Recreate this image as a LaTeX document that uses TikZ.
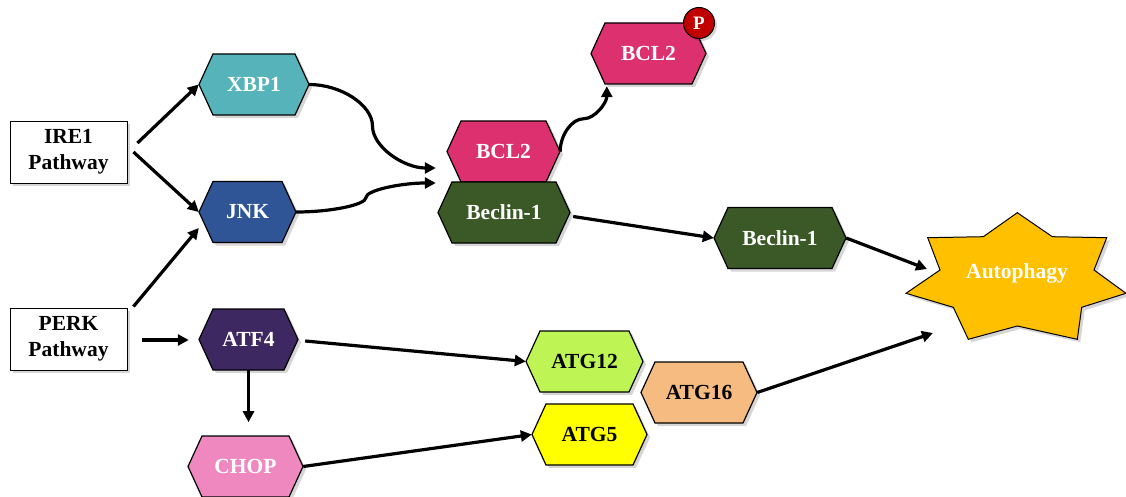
\documentclass[tikz,border=0pt]{standalone}
\usepackage{fontspec}
\setmainfont{Liberation Serif}
\usetikzlibrary{arrows.meta,calc}

\definecolor{cXBP}{RGB}{86,179,186}
\definecolor{cJNK}{RGB}{47,85,151}
\definecolor{cBCL}{RGB}{221,48,110}
\definecolor{cBEC}{RGB}{58,89,38}
\definecolor{cATF}{RGB}{62,40,98}
\definecolor{cCHOP}{RGB}{240,136,192}
\definecolor{cATGt}{RGB}{190,245,85}
\definecolor{cATGs}{RGB}{245,187,128}
\definecolor{cATGf}{RGB}{255,255,0}
\definecolor{cAUTO}{RGB}{255,192,0}
\definecolor{cP}{RGB}{192,0,0}

\tikzset{
  every node/.style={font=\bfseries\fontsize{21.5}{25.7}\selectfont},
  hexline/.style={draw=black, line width=1.2pt, line join=miter},
  hexnode/.style={inner sep=0pt, minimum height=61pt, text=white},
  conn/.style={line width=3.2pt, -{Triangle[length=11pt,width=11pt]}},
  shadowfill/.style={fill=black, opacity=0.16},
  pathbox/.style={draw=black, line width=0.9pt, fill=white, minimum width=117pt,
    minimum height=62pt, align=center, inner sep=0pt, text=black},
}

% name, x, y, half width, fill, text colour, text
\newcommand\hexn[7]{%
  \begin{scope}[shift={(#2,#3)}]
    \fill[shadowfill] (-#4+3,3) -- (-#4+17,-27.5) -- (#4-11,-27.5) -- (#4+3,3)
      -- (#4-11,33.5) -- (-#4+17,33.5) -- cycle;
    \draw[hexline, fill=#5] (-#4,0) -- (-#4+14,-30.5) -- (#4-14,-30.5) -- (#4,0)
      -- (#4-14,30.5) -- (-#4+14,30.5) -- cycle;
  \end{scope}
  \node[hexnode, text=#6, minimum width={2*#4}] (#1) at (#2,#3) {#7};
}

\begin{document}
\begin{tikzpicture}[x=1pt, y=-1pt]
\useasboundingbox (0,0) rectangle (1126,497);

% pathway boxes
\fill[shadowfill] (13,124) rectangle (130,186);
\node[pathbox] (ire) at (68.5,152) {IRE1\\Pathway};
\fill[shadowfill] (13,311) rectangle (130,373);
\node[pathbox] (perk) at (68.5,339) {PERK\\Pathway};

% hexagons
\hexn{xbp}{254}{84.5}{55}{cXBP}{white}{XBP1}
\hexn{jnk}{247.5}{212}{48.5}{cJNK}{white}{JNK}
\hexn{bclm}{503.5}{151.5}{56.5}{cBCL}{white}{BCL2}
\hexn{becl}{504}{212.5}{66}{cBEC}{white}{Beclin-1}
\hexn{bclt}{648.5}{53.5}{57.5}{cBCL}{white}{BCL2}
\hexn{becr}{780}{238}{66}{cBEC}{white}{Beclin-1}
\hexn{atf}{248.5}{339.5}{49.5}{cATF}{white}{ATF4}
\hexn{chop}{245.5}{466.5}{57.5}{cCHOP}{white}{CHOP}
\hexn{atgt}{584.5}{361.5}{58.5}{cATGt}{black}{ATG12}
\hexn{atgs}{699}{392.5}{58}{cATGs}{black}{ATG16}
\hexn{atgf}{589.5}{434.5}{57.5}{cATGf}{black}{ATG5}

% phosphate
\fill[shadowfill] (701.5,25.5) circle (15.5);
\node[circle, draw=black, line width=1pt, fill=cP, minimum size=31pt, inner sep=0pt,
  text=white, font=\bfseries\fontsize{19}{19}\selectfont] (phos) at (699,23) {P};

% autophagy star
\begin{scope}[shift={(3,3)}]
\fill[shadowfill] (1017.3,212.7) -- (1052.3,236.7) -- (1106.7,237.7) -- (1094,270)
  -- (1126,293.3) -- (1081.7,307.3) -- (1077.3,339.3) -- (1017.3,326)
  -- (968.3,339.3) -- (953.3,307.3) -- (906,293.3) -- (940,270)
  -- (927.7,237.7) -- (983.3,236.7) -- cycle;
\end{scope}
\draw[hexline, line width=1pt, fill=cAUTO] (1017.3,212.7) -- (1052.3,236.7) -- (1106.7,237.7) -- (1094,270)
  -- (1126,293.3) -- (1081.7,307.3) -- (1077.3,339.3) -- (1017.3,326)
  -- (968.3,339.3) -- (953.3,307.3) -- (906,293.3) -- (940,270)
  -- (927.7,237.7) -- (983.3,236.7) -- cycle;
\node[text=white, inner sep=0pt] (auto) at (1017,273) {Autophagy};

% helper coordinates
\coordinate (m1) at (372.5,126);
\coordinate (m2) at (366,197.5);
\coordinate (m3) at (583.5,118.75);
\coordinate (t1) at ($(bclm.west)+(-11,16.5)$);
\coordinate (t2) at ($(bclm.west)+(-11,31.5)$);
\coordinate (t3) at ($(bclt.south west)+(16,2)$);

% connectors
\draw[conn] ($(ire.east)+(10,-9)$) -- (xbp.west);
\draw[conn] ($(ire.east)+(6,0)$) -- (jnk.west);
\draw[conn] ($(perk.north east)+(6,-1)$) -- ($(jnk.west)+(0,16)$);
\draw[conn] ($(perk.east)+(15,1)$) -- ($(atf.west)+(-10,0.5)$);
\draw[conn] (atf.south) -- ($(atf.south)+(0,52)$);
\draw[conn] (xbp.east) .. controls +(31.75,0) and +(0,-21) .. (m1)
  .. controls +(0,21) and +(-32,0) .. (t1);
\draw[conn] (jnk.east) .. controls +(35,0) and +(0,7.25) .. (m2)
  .. controls +(0,-7.25) and +(-35,0) .. (t2);
\draw[conn] (bclm.east) .. controls +(0,-16.4) and +(-11.75,0) .. (m3)
  .. controls +(11.75,0) and +(0,16.4) .. (t3);
\draw[conn] ($(becl.east)+(3,4)$) -- (becr.west);
\draw[conn] (becr.east) -- ($(auto)+(-90,-4)$);
\draw[conn] ($(atf.east)+(7,1.5)$) -- (atgt.west);
\draw[conn] (chop.east) -- (atgf.west);
\draw[conn] (atgs.east) -- ($(auto)+(-84,60)$);
\end{tikzpicture}
\end{document}
